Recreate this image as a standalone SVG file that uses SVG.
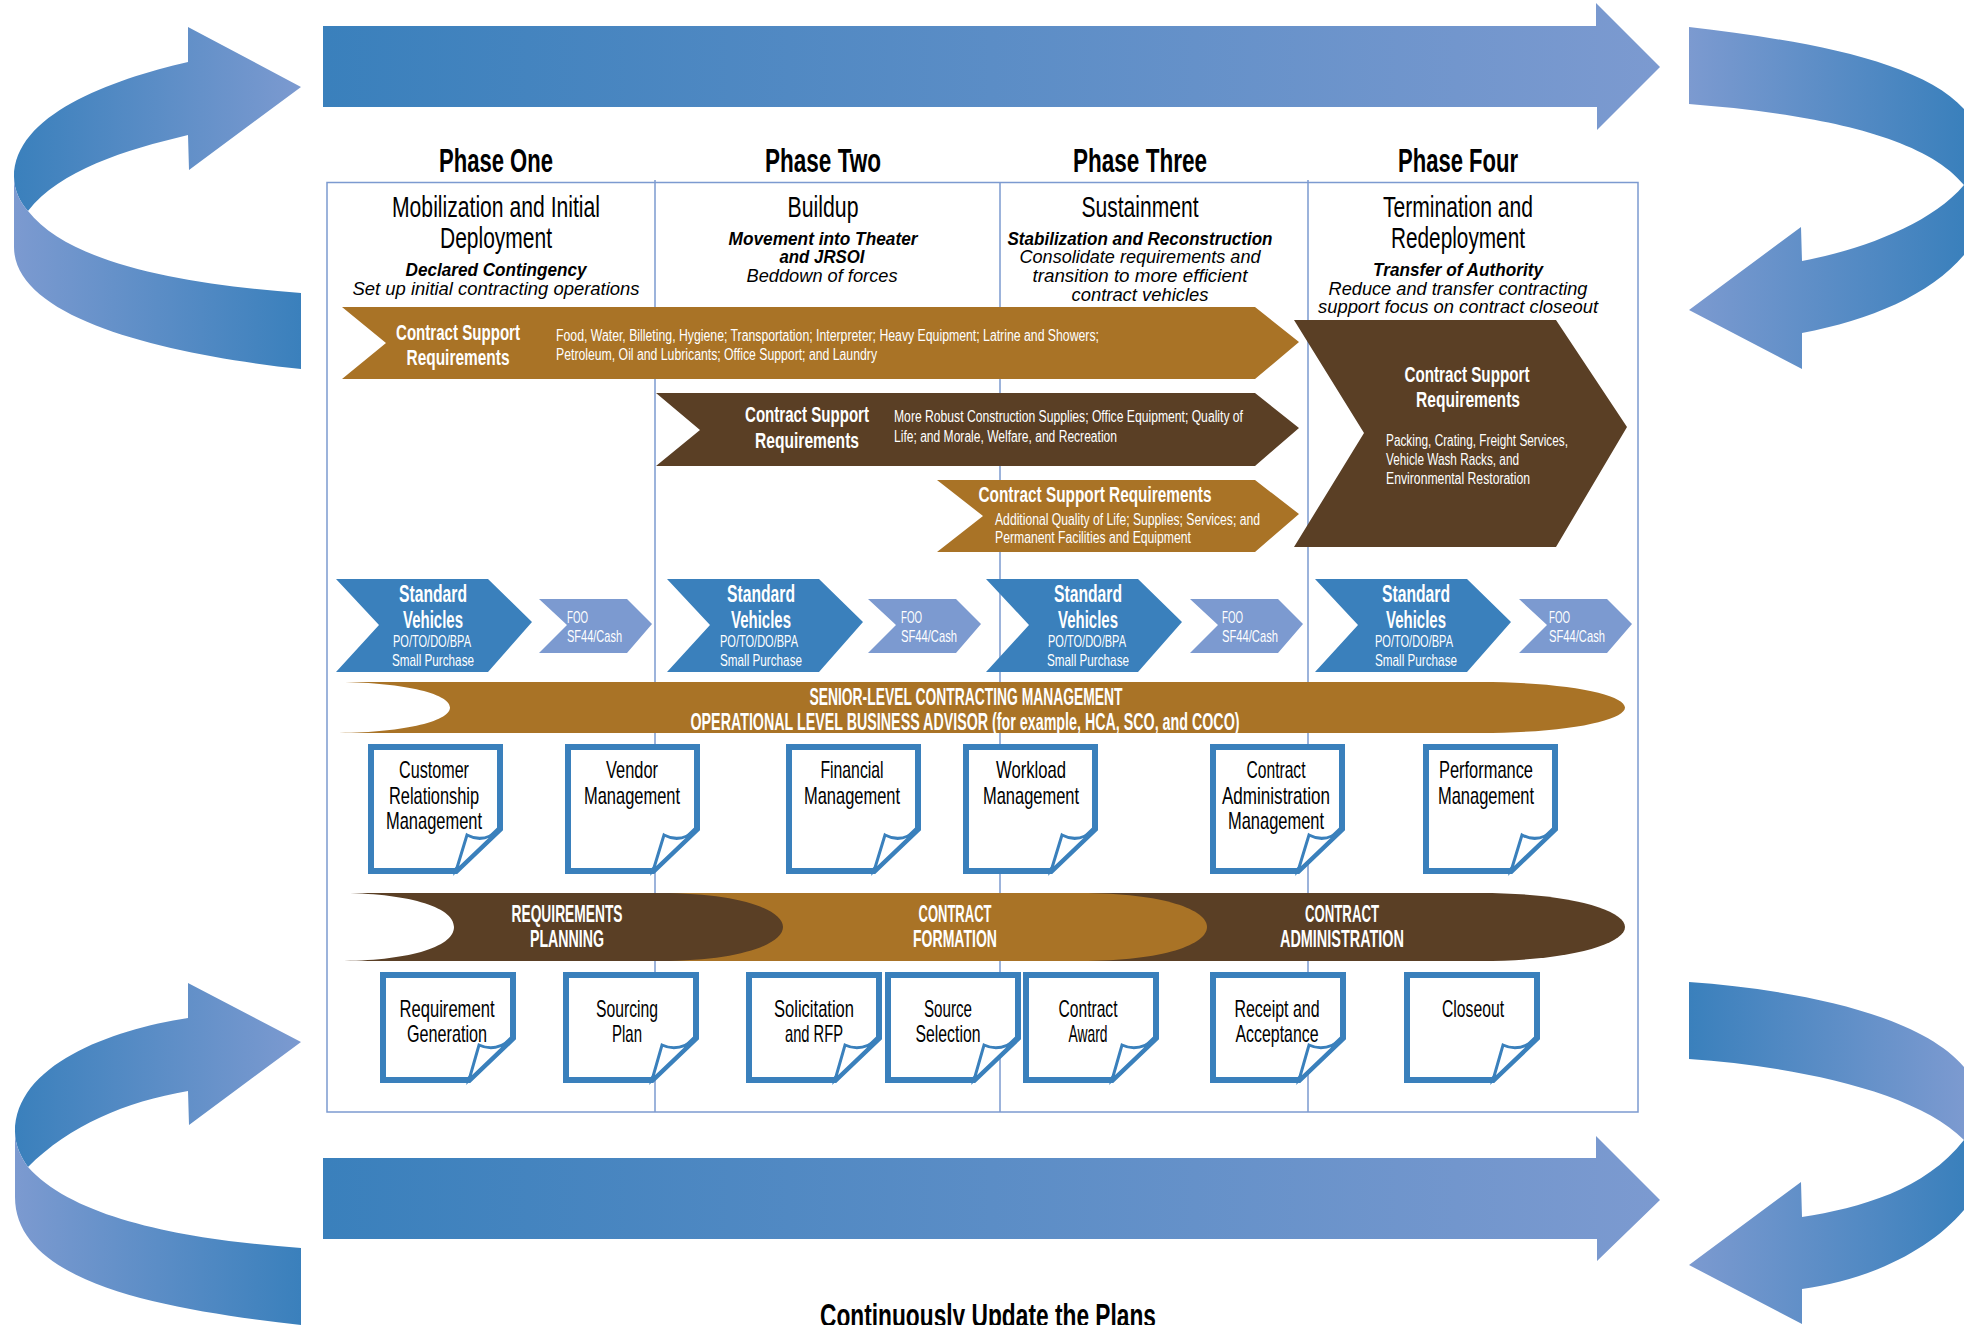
<svg xmlns="http://www.w3.org/2000/svg" xmlns:xlink="http://www.w3.org/1999/xlink" width="1964" height="1325" viewBox="0 0 1964 1325">
<style>
text{font-family:"Liberation Sans",Arial,sans-serif;text-anchor:middle}
.ph{font-size:33px;font-weight:700;fill:#000}
.ti{font-size:29px;fill:#000}
.bi{font-size:18px;font-weight:700;font-style:italic;fill:#000}
.it{font-size:18px;font-style:italic;fill:#000}
.hw{font-size:22px;font-weight:700;fill:#fff}
.dw{font-size:16px;fill:#fff;text-anchor:start}
.sw{font-size:24px;font-weight:700;fill:#fff}
.pw{font-size:17px;fill:#fff}
.fw{font-size:17px;fill:#fff;text-anchor:start}
.bw{font-size:23px;font-weight:700;fill:#fff}
.dt{font-size:24px;fill:#000}
.frame{fill:none;stroke:#7c9ad0;stroke-width:1.5}
.gold{fill:#a97326}.brown{fill:#5a3f25}.blue{fill:#3a80bc}.light{fill:#7c9ad0}
.docb{fill:#fff;stroke:#3a80bc;stroke-width:6}
.fold{fill:#fff;stroke:#3a80bc;stroke-width:3}
</style>
<defs>
<linearGradient id="dl" gradientUnits="objectBoundingBox" x1="0" x2="1" y1="0" y2="0"><stop offset="0" stop-color="#3a80bc"/><stop offset="1" stop-color="#7c9ad0"/></linearGradient>
<linearGradient id="ld" gradientUnits="objectBoundingBox" x1="0" x2="1" y1="0" y2="0"><stop offset="0" stop-color="#7c9ad0"/><stop offset="1" stop-color="#3a80bc"/></linearGradient>
<polygon id="std" class="blue" points="0,0 152,0 196,43 152,93 0,93 43,46"/>
<polygon id="foo" class="light" points="0,0 88,0 113,25 88,54 0,54 28,26"/>
<g id="docA"><path class="docb" d="M3,3H132V85L88,127H3Z"/><path class="fold" d="M88,127L99,91Q116,100 132,85Z"/></g>
<g id="docB"><path class="docb" d="M3,3H133V66L89,108H3Z"/><path class="fold" d="M89,108L99,73Q116,81 133,66Z"/></g>
</defs>

<g id="cycle-connectors">
<path id="arrow-top" fill="url(#dl)" d="M323,26H1596V3L1660,67L1597,130V107H323Z"/>
<path id="arrow-bottom" fill="url(#dl)" d="M323,1158H1596V1136L1660,1200L1597,1261V1239H323Z"/>
<path fill="url(#dl)" d="M188,62C110,80 14,115 14,177C14,190 20,202 28,211C60,170 125,150 188,135L189,170L301,87L188,27Z"/>
<path fill="url(#ld)" d="M14,177C14,190 20,202 28,211C70,265 190,285 301,293V369C170,355 14,320 14,247Z"/>
<path fill="url(#ld)" d="M1689,27C1800,40 1920,60 1964,109V185C1920,130 1790,112 1689,104Z"/>
<path fill="url(#ld)" d="M1964,185C1930,225 1860,250 1802,261L1801,227L1689,310L1802,369V333C1870,320 1930,295 1964,255Z"/>
<path fill="url(#dl)" d="M188,1018C110,1030 15,1065 15,1132C15,1145 21,1157 28,1167C70,1125 125,1102 188,1091L189,1125L301,1042L188,983Z"/>
<path fill="url(#ld)" d="M15,1132C15,1145 21,1157 28,1167C75,1220 190,1240 301,1248V1325C170,1310 15,1285 15,1197Z"/>
<path fill="url(#dl)" d="M1689,982C1800,990 1920,1015 1964,1067V1140C1915,1090 1790,1066 1689,1059Z"/>
<path fill="url(#ld)" d="M1964,1140C1925,1190 1860,1208 1802,1217L1801,1182L1689,1265L1802,1324V1289C1870,1280 1930,1250 1964,1210Z"/>
</g>

<g id="frame">
<rect class="frame" x="327" y="182.500" width="1311" height="929.500"/>
<path class="frame" d="M655,180V1112M1000,182V1112M1308,180V1112"/>
</g>

<g id="phase-headers">
<text class="ph" x="496" y="172" textLength="114" lengthAdjust="spacingAndGlyphs">Phase One</text>
<text class="ph" x="823" y="172" textLength="116" lengthAdjust="spacingAndGlyphs">Phase Two</text>
<text class="ph" x="1140" y="172" textLength="134" lengthAdjust="spacingAndGlyphs">Phase Three</text>
<text class="ph" x="1458" y="172" textLength="120" lengthAdjust="spacingAndGlyphs">Phase Four</text>
<text class="ti" x="496" y="217" textLength="208" lengthAdjust="spacingAndGlyphs">Mobilization and Initial</text>
<text class="ti" x="496" y="248" textLength="112" lengthAdjust="spacingAndGlyphs">Deployment</text>
<text class="bi" x="496" y="276" textLength="181" lengthAdjust="spacingAndGlyphs">Declared Contingency</text>
<text class="it" x="496" y="295" textLength="287" lengthAdjust="spacingAndGlyphs">Set up initial contracting operations</text>
<text class="ti" x="823" y="217" textLength="71" lengthAdjust="spacingAndGlyphs">Buildup</text>
<text class="bi" x="823" y="245" textLength="189" lengthAdjust="spacingAndGlyphs">Movement into Theater</text>
<text class="bi" x="822" y="263" textLength="85" lengthAdjust="spacingAndGlyphs">and JRSOI</text>
<text class="it" x="822" y="282" textLength="151" lengthAdjust="spacingAndGlyphs">Beddown of forces</text>
<text class="ti" x="1140" y="217" textLength="117" lengthAdjust="spacingAndGlyphs">Sustainment</text>
<text class="bi" x="1140" y="245" textLength="265" lengthAdjust="spacingAndGlyphs">Stabilization and Reconstruction</text>
<text class="it" x="1140" y="263" textLength="241" lengthAdjust="spacingAndGlyphs">Consolidate requirements and</text>
<text class="it" x="1140" y="282" textLength="215" lengthAdjust="spacingAndGlyphs">transition to more efficient</text>
<text class="it" x="1140" y="301" textLength="137" lengthAdjust="spacingAndGlyphs">contract vehicles</text>
<text class="ti" x="1458" y="217" textLength="150" lengthAdjust="spacingAndGlyphs">Termination and</text>
<text class="ti" x="1458" y="248" textLength="134" lengthAdjust="spacingAndGlyphs">Redeployment</text>
<text class="bi" x="1458" y="276" textLength="170" lengthAdjust="spacingAndGlyphs">Transfer of Authority</text>
<text class="it" x="1458" y="295" textLength="259" lengthAdjust="spacingAndGlyphs">Reduce and transfer contracting</text>
<text class="it" x="1458" y="313" textLength="280" lengthAdjust="spacingAndGlyphs">support focus on contract closeout</text>
</g>

<g id="csr-1">
<polygon class="gold" points="342,307 1255,307 1299,342 1255,379 342,379 386,343"/>
<text class="hw" x="458" y="340" textLength="124" lengthAdjust="spacingAndGlyphs">Contract Support</text>
<text class="hw" x="458" y="365" textLength="103" lengthAdjust="spacingAndGlyphs">Requirements</text>
<text class="dw" x="556" y="341" textLength="543" lengthAdjust="spacingAndGlyphs">Food, Water, Billeting, Hygiene; Transportation; Interpreter; Heavy Equipment; Latrine and Showers;</text>
<text class="dw" x="556" y="360" textLength="321" lengthAdjust="spacingAndGlyphs">Petroleum, Oil and Lubricants; Office Support; and Laundry</text>
</g>
<g id="csr-2">
<polygon class="brown" points="656,393 1255,393 1299,428 1255,466 656,466 700,430"/>
<text class="hw" x="807" y="422" textLength="124" lengthAdjust="spacingAndGlyphs">Contract Support</text>
<text class="hw" x="807" y="448" textLength="104" lengthAdjust="spacingAndGlyphs">Requirements</text>
<text class="dw" x="894" y="422" textLength="349" lengthAdjust="spacingAndGlyphs">More Robust Construction Supplies; Office Equipment; Quality of</text>
<text class="dw" x="894" y="442" textLength="223" lengthAdjust="spacingAndGlyphs">Life; and Morale, Welfare, and Recreation</text>
</g>
<g id="csr-3">
<polygon class="gold" points="937,480 1255,480 1299,514 1255,552 937,552 983,516"/>
<text class="hw" x="1095" y="502" textLength="233" lengthAdjust="spacingAndGlyphs">Contract Support Requirements</text>
<text class="dw" x="995" y="525" textLength="265" lengthAdjust="spacingAndGlyphs">Additional Quality of Life; Supplies; Services; and</text>
<text class="dw" x="995" y="543" textLength="196" lengthAdjust="spacingAndGlyphs">Permanent Facilities and Equipment</text>
</g>
<g id="csr-4">
<polygon class="brown" points="1294,320 1556,320 1627,427 1556,547 1294,547 1364,433"/>
<text class="hw" x="1467" y="382" textLength="125" lengthAdjust="spacingAndGlyphs">Contract Support</text>
<text class="hw" x="1468" y="407" textLength="104" lengthAdjust="spacingAndGlyphs">Requirements</text>
<text class="dw" x="1386" y="446" textLength="182" lengthAdjust="spacingAndGlyphs">Packing, Crating, Freight Services,</text>
<text class="dw" x="1386" y="465" textLength="133" lengthAdjust="spacingAndGlyphs">Vehicle Wash Racks, and</text>
<text class="dw" x="1386" y="484" textLength="144" lengthAdjust="spacingAndGlyphs">Environmental Restoration</text>
</g>

<g id="vehicles-1">
<use xlink:href="#std" href="#std" x="336" y="579"/>
<text class="sw" x="433" y="602" textLength="68" lengthAdjust="spacingAndGlyphs">Standard</text>
<text class="sw" x="433" y="628" textLength="60" lengthAdjust="spacingAndGlyphs">Vehicles</text>
<text class="pw" x="432" y="647" textLength="78" lengthAdjust="spacingAndGlyphs">PO/TO/DO/BPA</text>
<text class="pw" x="433" y="666" textLength="82" lengthAdjust="spacingAndGlyphs">Small Purchase</text>
<use xlink:href="#foo" href="#foo" x="539" y="599"/>
<text class="fw" x="567" y="623" textLength="21" lengthAdjust="spacingAndGlyphs">FOO</text>
<text class="fw" x="567" y="642" textLength="55" lengthAdjust="spacingAndGlyphs">SF44/Cash</text>
</g>
<g id="vehicles-2">
<use xlink:href="#std" href="#std" x="667" y="579"/>
<text class="sw" x="761" y="602" textLength="68" lengthAdjust="spacingAndGlyphs">Standard</text>
<text class="sw" x="761" y="628" textLength="60" lengthAdjust="spacingAndGlyphs">Vehicles</text>
<text class="pw" x="759" y="647" textLength="78" lengthAdjust="spacingAndGlyphs">PO/TO/DO/BPA</text>
<text class="pw" x="761" y="666" textLength="82" lengthAdjust="spacingAndGlyphs">Small Purchase</text>
<use xlink:href="#foo" href="#foo" x="868" y="599"/>
<text class="fw" x="901" y="623" textLength="21" lengthAdjust="spacingAndGlyphs">FOO</text>
<text class="fw" x="901" y="642" textLength="56" lengthAdjust="spacingAndGlyphs">SF44/Cash</text>
</g>
<g id="vehicles-3">
<use xlink:href="#std" href="#std" x="986" y="579"/>
<text class="sw" x="1088" y="602" textLength="68" lengthAdjust="spacingAndGlyphs">Standard</text>
<text class="sw" x="1088" y="628" textLength="60" lengthAdjust="spacingAndGlyphs">Vehicles</text>
<text class="pw" x="1087" y="647" textLength="78" lengthAdjust="spacingAndGlyphs">PO/TO/DO/BPA</text>
<text class="pw" x="1088" y="666" textLength="82" lengthAdjust="spacingAndGlyphs">Small Purchase</text>
<use xlink:href="#foo" href="#foo" x="1190" y="599"/>
<text class="fw" x="1222" y="623" textLength="21" lengthAdjust="spacingAndGlyphs">FOO</text>
<text class="fw" x="1222" y="642" textLength="56" lengthAdjust="spacingAndGlyphs">SF44/Cash</text>
</g>
<g id="vehicles-4">
<use xlink:href="#std" href="#std" x="1315" y="579"/>
<text class="sw" x="1416" y="602" textLength="68" lengthAdjust="spacingAndGlyphs">Standard</text>
<text class="sw" x="1416" y="628" textLength="60" lengthAdjust="spacingAndGlyphs">Vehicles</text>
<text class="pw" x="1414" y="647" textLength="78" lengthAdjust="spacingAndGlyphs">PO/TO/DO/BPA</text>
<text class="pw" x="1416" y="666" textLength="82" lengthAdjust="spacingAndGlyphs">Small Purchase</text>
<use xlink:href="#foo" href="#foo" x="1519" y="599"/>
<text class="fw" x="1549" y="623" textLength="21" lengthAdjust="spacingAndGlyphs">FOO</text>
<text class="fw" x="1549" y="642" textLength="56" lengthAdjust="spacingAndGlyphs">SF44/Cash</text>
</g>

<g id="senior-band">
<path class="gold" d="M333,682H1480C1570,682 1625,695 1625,707.500C1625,720 1570,733 1480,733H333C400,733 450,722 450,707.500C450,693 400,682 333,682Z"/>
<text class="bw" x="966" y="705" textLength="313" lengthAdjust="spacingAndGlyphs">SENIOR-LEVEL CONTRACTING MANAGEMENT</text>
<text class="bw" x="965" y="730" textLength="549" lengthAdjust="spacingAndGlyphs">OPERATIONAL LEVEL BUSINESS ADVISOR (for example, HCA, SCO, and COCO)</text>
</g>

<g id="docs-services">
<g id="doc-crm"><use xlink:href="#docA" href="#docA" x="368" y="744"/><text class="dt" x="434" y="778" textLength="70" lengthAdjust="spacingAndGlyphs">Customer</text><text class="dt" x="434" y="804" textLength="90" lengthAdjust="spacingAndGlyphs">Relationship</text><text class="dt" x="434" y="829" textLength="96" lengthAdjust="spacingAndGlyphs">Management</text></g>
<g id="doc-vendor"><use xlink:href="#docA" href="#docA" x="565" y="744"/><text class="dt" x="632" y="778" textLength="52" lengthAdjust="spacingAndGlyphs">Vendor</text><text class="dt" x="632" y="804" textLength="96" lengthAdjust="spacingAndGlyphs">Management</text></g>
<g id="doc-financial"><use xlink:href="#docA" href="#docA" x="786" y="744"/><text class="dt" x="852" y="778" textLength="63" lengthAdjust="spacingAndGlyphs">Financial</text><text class="dt" x="852" y="804" textLength="96" lengthAdjust="spacingAndGlyphs">Management</text></g>
<g id="doc-workload"><use xlink:href="#docA" href="#docA" x="963" y="744"/><text class="dt" x="1031" y="778" textLength="70" lengthAdjust="spacingAndGlyphs">Workload</text><text class="dt" x="1031" y="804" textLength="96" lengthAdjust="spacingAndGlyphs">Management</text></g>
<g id="doc-admin"><use xlink:href="#docA" href="#docA" x="1210" y="744"/><text class="dt" x="1276" y="778" textLength="59" lengthAdjust="spacingAndGlyphs">Contract</text><text class="dt" x="1276" y="804" textLength="108" lengthAdjust="spacingAndGlyphs">Administration</text><text class="dt" x="1276" y="829" textLength="96" lengthAdjust="spacingAndGlyphs">Management</text></g>
<g id="doc-performance"><use xlink:href="#docA" href="#docA" x="1423" y="744"/><text class="dt" x="1486" y="778" textLength="94" lengthAdjust="spacingAndGlyphs">Performance</text><text class="dt" x="1486" y="804" textLength="96" lengthAdjust="spacingAndGlyphs">Management</text></g>
</g>

<g id="stage-band">
<path class="brown" d="M900,893H1480C1570,893 1625,910 1625,927C1625,944 1570,961 1480,961H900Z"/>
<path class="gold" d="M650,893H1080C1165,893 1207,910 1207,927C1207,944 1165,961 1080,961H650Z"/>
<path class="brown" d="M338,893H660C740,893 783,910 783,927C783,944 740,961 660,961H338C405,961 454,948 454,927C454,906 405,893 338,893Z"/>
<text class="bw" x="567" y="922" textLength="111" lengthAdjust="spacingAndGlyphs">REQUIREMENTS</text>
<text class="bw" x="567" y="947" textLength="74" lengthAdjust="spacingAndGlyphs">PLANNING</text>
<text class="bw" x="955" y="922" textLength="73" lengthAdjust="spacingAndGlyphs">CONTRACT</text>
<text class="bw" x="955" y="947" textLength="84" lengthAdjust="spacingAndGlyphs">FORMATION</text>
<text class="bw" x="1342" y="922" textLength="74" lengthAdjust="spacingAndGlyphs">CONTRACT</text>
<text class="bw" x="1342" y="947" textLength="124" lengthAdjust="spacingAndGlyphs">ADMINISTRATION</text>
</g>

<g id="docs-steps">
<g id="doc-reqgen"><use xlink:href="#docB" href="#docB" x="380" y="972"/><text class="dt" x="447" y="1017" textLength="95" lengthAdjust="spacingAndGlyphs">Requirement</text><text class="dt" x="447" y="1042" textLength="80" lengthAdjust="spacingAndGlyphs">Generation</text></g>
<g id="doc-sourcing"><use xlink:href="#docB" href="#docB" x="563" y="972"/><text class="dt" x="627" y="1017" textLength="62" lengthAdjust="spacingAndGlyphs">Sourcing</text><text class="dt" x="627" y="1042" textLength="30" lengthAdjust="spacingAndGlyphs">Plan</text></g>
<g id="doc-rfp"><use xlink:href="#docB" href="#docB" x="746" y="972"/><text class="dt" x="814" y="1017" textLength="80" lengthAdjust="spacingAndGlyphs">Solicitation</text><text class="dt" x="814" y="1042" textLength="58" lengthAdjust="spacingAndGlyphs">and RFP</text></g>
<g id="doc-source"><use xlink:href="#docB" href="#docB" x="885" y="972"/><text class="dt" x="948" y="1017" textLength="48" lengthAdjust="spacingAndGlyphs">Source</text><text class="dt" x="948" y="1042" textLength="65" lengthAdjust="spacingAndGlyphs">Selection</text></g>
<g id="doc-award"><use xlink:href="#docB" href="#docB" x="1023" y="972"/><text class="dt" x="1088" y="1017" textLength="59" lengthAdjust="spacingAndGlyphs">Contract</text><text class="dt" x="1088" y="1042" textLength="39" lengthAdjust="spacingAndGlyphs">Award</text></g>
<g id="doc-receipt"><use xlink:href="#docB" href="#docB" x="1210" y="972"/><text class="dt" x="1277" y="1017" textLength="85" lengthAdjust="spacingAndGlyphs">Receipt and</text><text class="dt" x="1277" y="1042" textLength="83" lengthAdjust="spacingAndGlyphs">Acceptance</text></g>
<g id="doc-closeout"><use xlink:href="#docB" href="#docB" x="1404" y="972"/><text class="dt" x="1473" y="1017" textLength="62" lengthAdjust="spacingAndGlyphs">Closeout</text></g>
</g>

<text id="footer" class="ph" x="988" y="1327" textLength="336" lengthAdjust="spacingAndGlyphs">Continuously Update the Plans</text>
</svg>
